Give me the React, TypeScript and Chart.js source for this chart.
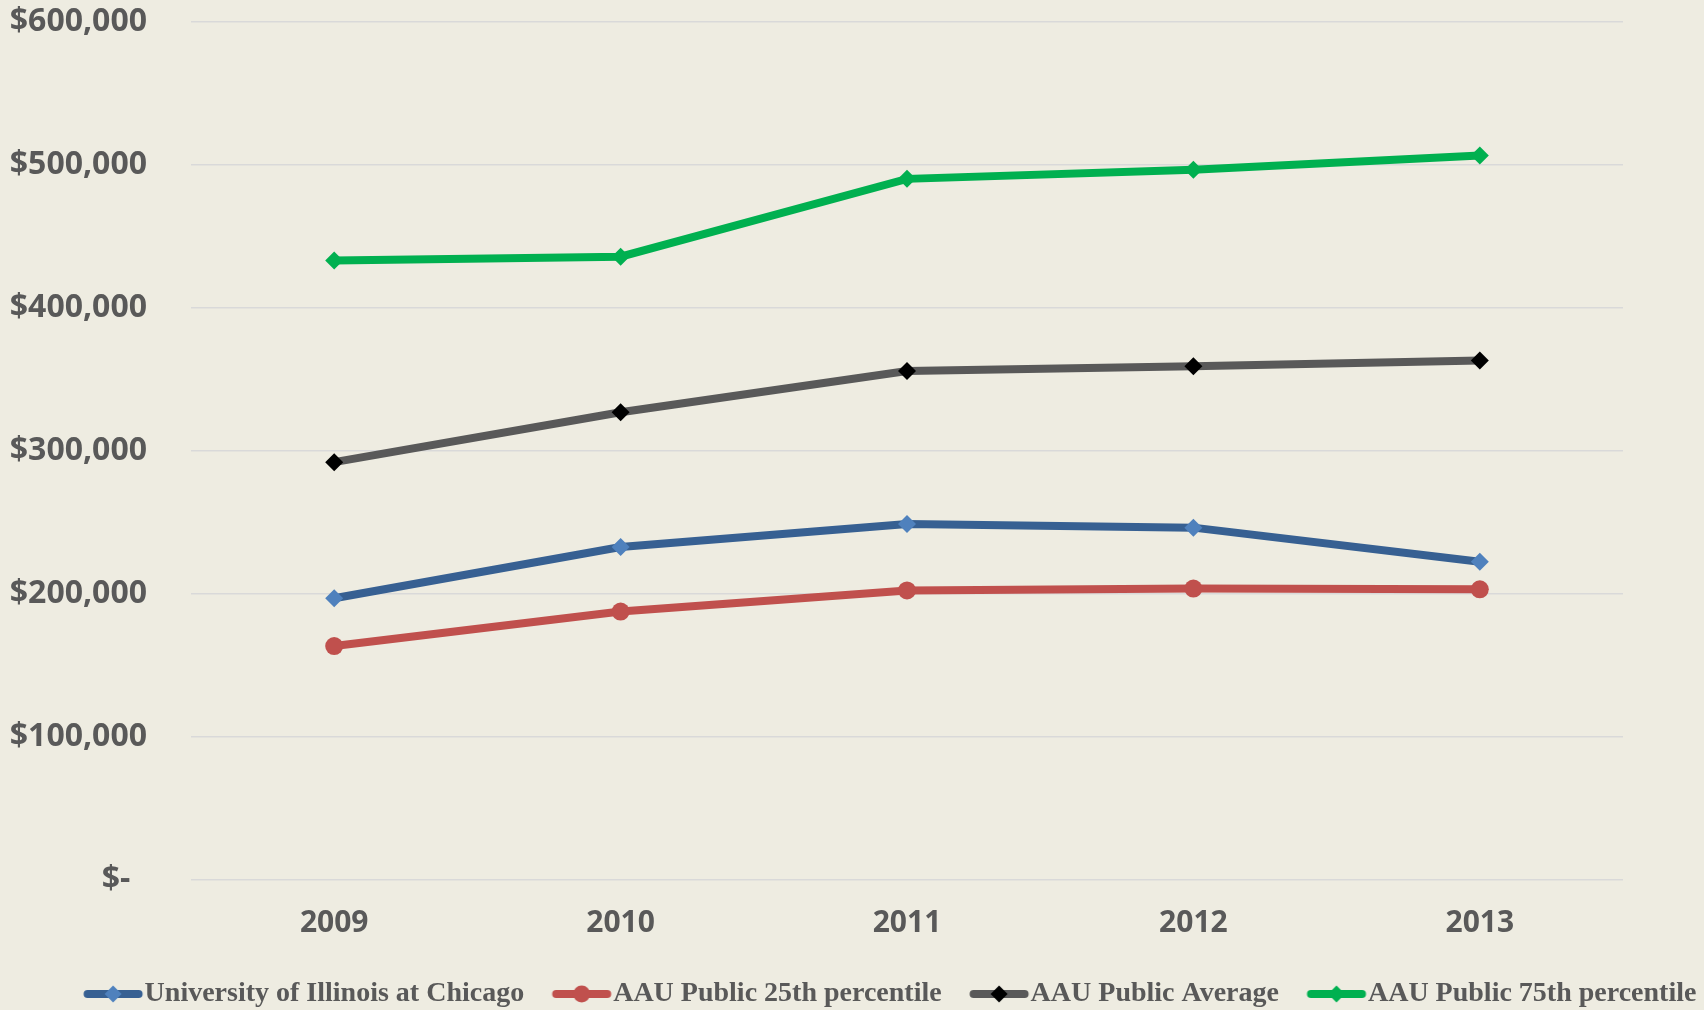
import React, { useEffect, useRef } from 'react';
import { Chart, registerables } from 'chart.js';

Chart.register(...registerables);

const years = ['2009', '2010', '2011', '2012', '2013'];
const uicValues = [197000, 232800, 248900, 246400, 222600];
const aau25Values = [163600, 187700, 202500, 203800, 203300];
const aauAvgValues = [292200, 327100, 356000, 359200, 363200];
const aau75Values = [433300, 435900, 490300, 496600, 506600];
const seriesNames = [
  'University of Illinois at Chicago',
  'AAU Public 25th percentile',
  'AAU Public Average',
  'AAU Public 75th percentile',
];

const BG = '#EEECE1';
const TEXT = '#595959';

function makeLegendIcon(lineColor: string, markerColor: string, shape: 'diamond' | 'circle', r: number) {
  const c = document.createElement('canvas');
  c.width = 80;
  c.height = 24;
  const ctx = c.getContext('2d')!;
  ctx.strokeStyle = lineColor;
  ctx.lineWidth = 8;
  ctx.lineCap = 'round';
  ctx.beginPath();
  ctx.moveTo(20.5, 12);
  ctx.lineTo(71.5, 12);
  ctx.stroke();
  ctx.fillStyle = markerColor;
  ctx.beginPath();
  const cx = 46;
  if (shape === 'circle') {
    ctx.arc(cx, 12, r, 0, Math.PI * 2);
  } else {
    ctx.moveTo(cx, 12 - r);
    ctx.lineTo(cx + r, 12);
    ctx.lineTo(cx, 12 + r);
    ctx.lineTo(cx - r, 12);
    ctx.closePath();
  }
  ctx.fill();
  return c;
}

const bgPlugin = {
  id: 'bgFill',
  beforeDraw(chart: any) {
    const { ctx, width, height } = chart;
    ctx.save();
    ctx.fillStyle = BG;
    ctx.fillRect(0, 0, width, height);
    ctx.restore();
  },
};

// shift the legend row so it sits where the original one does
const legendShift = {
  id: 'legendShift',
  afterLayout(chart: any) {
    const lg = chart.legend;
    if (!lg) return;
    const target = 890;
    const d = target - (lg.left + lg.right) / 2;
    lg.left += d;
    lg.right += d;
  },
};

export default function App() {
  const ref = useRef<HTMLCanvasElement | null>(null);

  useEffect(() => {
    if (!ref.current) return;
    const icons = [
      makeLegendIcon('#376092', '#4F81BD', 'diamond', 8.5),
      makeLegendIcon('#C0504D', '#C0504D', 'circle', 8.5),
      makeLegendIcon('#595959', '#000000', 'diamond', 8.5),
      makeLegendIcon('#00B050', '#00B050', 'diamond', 8.5),
    ];
    const chart = new Chart(ref.current, {
      type: 'line',
      data: {
        labels: years,
        datasets: [
          {
            label: seriesNames[0],
            data: uicValues,
            borderColor: '#376092',
            backgroundColor: '#4F81BD',
            pointBackgroundColor: '#4F81BD',
            pointBorderColor: '#4F81BD',
            pointStyle: 'rectRot',
            pointRadius: 9,
            borderWidth: 8,
            pointBorderWidth: 0,
            tension: 0,
          },
          {
            label: seriesNames[1],
            data: aau25Values,
            borderColor: '#C0504D',
            backgroundColor: '#C0504D',
            pointBackgroundColor: '#C0504D',
            pointBorderColor: '#C0504D',
            pointStyle: 'circle',
            pointRadius: 9,
            borderWidth: 8,
            pointBorderWidth: 0,
            tension: 0,
          },
          {
            label: seriesNames[2],
            data: aauAvgValues,
            borderColor: '#595959',
            backgroundColor: '#000000',
            pointBackgroundColor: '#000000',
            pointBorderColor: '#000000',
            pointStyle: 'rectRot',
            pointRadius: 9,
            borderWidth: 8,
            pointBorderWidth: 0,
            tension: 0,
          },
          {
            label: seriesNames[3],
            data: aau75Values,
            borderColor: '#00B050',
            backgroundColor: '#00B050',
            pointBackgroundColor: '#00B050',
            pointBorderColor: '#00B050',
            pointStyle: 'rectRot',
            pointRadius: 9,
            borderWidth: 8,
            pointBorderWidth: 0,
            tension: 0,
          },
        ],
      },
      options: {
        responsive: false,
        animation: false,
        layout: { padding: { top: 22, right: 0, bottom: -8, left: 0 } },
        plugins: {
          tooltip: { enabled: false },
          legend: {
            position: 'bottom',
            labels: {
              usePointStyle: true,
              pointStyleWidth: 47,
              padding: 28,
              color: TEXT,
              font: { family: "'Liberation Serif', serif", size: 28, weight: 'bold' },
              generateLabels: (ch: any) =>
                ch.data.datasets.map((ds: any, i: number) => ({
                  text: ds.label,
                  fillStyle: ds.borderColor,
                  strokeStyle: ds.borderColor,
                  fontColor: TEXT,
                  lineWidth: 0,
                  pointStyle: icons[i],
                  hidden: false,
                  datasetIndex: i,
                })),
            },
          },
        },
        scales: {
          x: {
            offset: true,
            afterFit: (scale: any) => {
              scale.height = 72;
            },
            grid: { display: false, drawTicks: false },
            border: { display: false },
            ticks: {
              color: TEXT,
              padding: 25,
              font: { family: "'Open Sans', sans-serif", size: 30, weight: 'bold' },
            },
          },
          y: {
            min: 0,
            max: 600000,
            afterFit: (scale: any) => {
              scale.width = 191;
              scale.paddingTop = 0;
              scale.paddingBottom = 0;
            },
            grid: { color: '#D9D9D9', lineWidth: 1.5, drawTicks: false },
            border: { display: false },
            ticks: {
              stepSize: 100000,
              padding: 44,
              color: TEXT,
              font: { family: "'Open Sans', sans-serif", size: 32, weight: 'bold' },
              callback: (v: any) => (Number(v) === 0 ? '$-  ' : '$' + Number(v).toLocaleString('en-US')),
            },
          },
          yRightSpace: {
            position: 'right',
            min: 0,
            max: 600000,
            afterFit: (scale: any) => {
              scale.width = 81;
              scale.paddingTop = 0;
              scale.paddingBottom = 0;
            },
            grid: { display: false, drawTicks: false },
            border: { display: false },
            ticks: { display: false },
          },
        },
      },
      plugins: [bgPlugin, legendShift],
    });
    return () => chart.destroy();
  }, []);

  return (
    <div style={{ position: 'fixed', left: 0, top: 0, width: 1704, height: 1010, background: BG }}>
      <canvas ref={ref} width={1704} height={1010} style={{ display: 'block' }} />
    </div>
  );
}
